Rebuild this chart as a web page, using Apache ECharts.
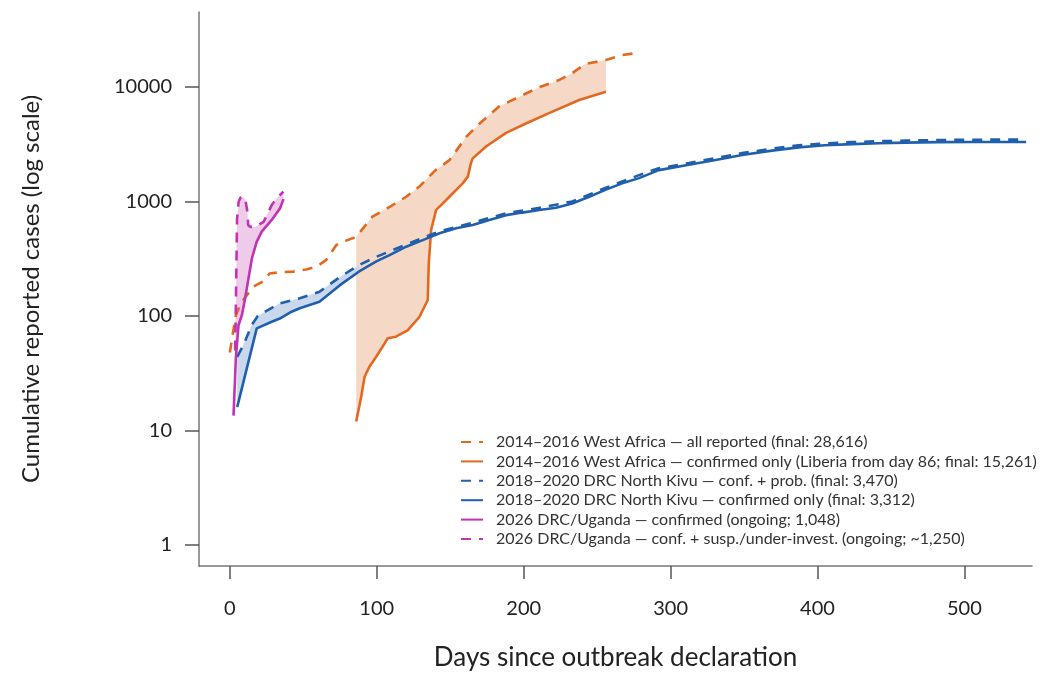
<!DOCTYPE html>
<html>
<head>
<meta charset="utf-8">
<script src="https://cdn.jsdelivr.net/npm/echarts@6/dist/echarts.min.js"></script>
<style>html,body{margin:0;padding:0;background:#fff;}#c{width:1054px;height:676px;}</style>
</head>
<body>
<div id="c"></div>
<script>
// ---- data ----
const xTicks = [0, 100, 200, 300, 400, 500];
const yTicks = [1, 10, 100, 1000, 10000];

const waAllDays  = [0, 2, 4, 7, 10, 16, 22.6, 27, 35, 43, 52, 59, 65.7, 72.5, 80, 86, 97, 109, 120, 129, 140, 149.5, 161, 170, 183, 197, 211, 224, 233, 242, 256, 267, 278];
const waAllCases = [48, 70, 100, 125, 143, 180, 200, 235, 242, 244, 255, 270, 309, 417, 460, 491, 737, 900, 1100, 1350, 1880, 2300, 3680, 4800, 6730, 8230, 10000, 11500, 13200, 15900, 17200, 19000, 19900];

const waConfDays  = [86, 89.5, 91.7, 95, 99.6, 104, 107.5, 113, 121, 129, 134.7, 135.4, 137, 140.4, 143.8, 150.6, 158.5, 162, 164, 165.3, 174.4, 188, 201.5, 219.6, 237.8, 256];
const waConfCases = [12, 20, 29.5, 36, 44, 54, 64, 66, 75, 98, 138, 288, 563, 845, 930, 1140, 1440, 1650, 2140, 2380, 3020, 3970, 4800, 6100, 7700, 9100];

const nkProbDays  = [5, 9.3, 15, 19, 34, 47.6, 61, 74.7, 88, 100, 120, 142.7, 165, 188, 210, 233, 256, 278.5, 292, 312.5, 330.6, 348.7, 369, 387, 405, 423, 442, 460, 482, 505, 523, 542];
const nkProbCases = [44, 56, 84, 100, 129, 143, 163, 218, 279, 330, 420, 550, 650, 790, 875, 1000, 1320, 1700, 1950, 2170, 2390, 2650, 2890, 3090, 3220, 3300, 3360, 3400, 3440, 3460, 3470, 3470];

const nkConfDays  = [5, 18.3, 28.5, 34, 42, 47.6, 61, 74.7, 88, 99.7, 108.7, 120, 131.3, 142.7, 154, 165.3, 176.6, 188, 199, 210.6, 222, 233, 244.6, 256, 267, 278.5, 292, 312.5, 330.6, 348.7, 369, 387, 405, 423.4, 441.6, 459.7, 482, 505, 523, 542];
const nkConfCases = [16, 78, 89, 95, 109, 117, 133, 185, 245, 300, 340, 403, 460, 528, 583, 624, 690, 760, 800, 842, 883, 960, 1100, 1270, 1440, 1600, 1880, 2090, 2300, 2550, 2780, 2970, 3100, 3170, 3230, 3270, 3300, 3310, 3312, 3312];

const ugConfDays  = [2.5, 4.1, 5.9, 8.2, 10.4, 12.7, 15, 18.3, 21.7, 28.5, 34.2, 36.5];
const ugConfCases = [13.5, 43, 83, 102, 143, 214, 318, 446, 545, 690, 873, 1048];

const ugSuspDays  = [3.6, 4.2, 4.9, 6, 7.5, 9, 10.5, 12, 12.5, 14, 17, 20, 23, 28.5, 32, 36.5];
const ugSuspCases = [50, 150, 700, 1000, 1090, 1100, 1050, 800, 620, 600, 600, 630, 665, 930, 1070, 1220];

const names = [
  '2014–2016 West Africa — all reported (final: 28,616)',
  '2014–2016 West Africa — confirmed only (Liberia from day 86; final: 15,261)',
  '2018–2020 DRC North Kivu — conf. + prob. (final: 3,470)',
  '2018–2020 DRC North Kivu — confirmed only (final: 3,312)',
  '2026 DRC/Uganda — confirmed (ongoing; 1,048)',
  '2026 DRC/Uganda — conf. + susp./under-invest. (ongoing; ~1,250)'
];

// ---- helpers ----
const zip = (d, v) => d.map((x, i) => [x, v[i]]);
function band(upD, upV, loD, loV, from, to) {
  const up = zip(upD, upV).filter(p => p[0] >= from && p[0] <= to);
  const lo = zip(loD, loV).filter(p => p[0] >= from && p[0] <= to).reverse();
  return up.concat(lo);
}
function bandSeries(poly, color) {
  return {
    type: 'custom', silent: true, z: 1,
    data: poly, encode: { x: 0, y: 1 },
    renderItem: (params, api) => {
      if (params.dataIndex !== 0) return null;
      return { type: 'polygon', shape: { points: poly.map(p => api.coord(p)) }, style: { fill: color } };
    }
  };
}

const ORANGE = '#E3691F', BLUE = '#1F5FAD', MAG = '#C233B5';
const FONT = 'Lato';
const dash = [10, 8];

function line(name, data, color, dashed) {
  return {
    name, type: 'line', data, symbol: 'none', z: 3,
    lineStyle: { color, width: 2.6, type: dashed ? dash : 'solid' },
    itemStyle: { color }
  };
}

const chart = echarts.init(document.getElementById('c'), null, { renderer: 'canvas' });
chart.setOption({
  animation: false,
  backgroundColor: '#fff',
  grid: { left: 199, right: 22, top: 12, bottom: 110 },
  xAxis: {
    type: 'value', min: -21, max: 546,
    name: 'Days since outbreak declaration', nameLocation: 'middle', nameGap: 79,
    nameTextStyle: { fontFamily: FONT, fontSize: 26, color: '#222' },
    axisLine: { show: true, onZero: false, lineStyle: { color: '#777', width: 1.5 } },
    axisTick: { show: true, length: 13, customValues: xTicks, lineStyle: { color: '#555', width: 1.5 } },
    axisLabel: { customValues: xTicks, margin: 33, fontFamily: FONT, fontSize: 20, color: '#222' },
    splitLine: { show: false }
  },
  yAxis: {
    type: 'log', logBase: 10, min: 0.6555, max: 45180,
    name: 'Cumulative reported cases (log scale)', nameLocation: 'middle', nameGap: 156,
    nameTextStyle: { fontFamily: FONT, fontSize: 24, color: '#222' },
    axisLine: { show: true, onZero: false, lineStyle: { color: '#777', width: 1.5 } },
    axisTick: { show: true, length: 14, customValues: yTicks, lineStyle: { color: '#555', width: 1.5 } },
    axisLabel: { customValues: yTicks, margin: 27, fontFamily: FONT, fontSize: 20, color: '#222', formatter: v => String(v) },
    splitLine: { show: false }
  },
  legend: {
    data: names,
    orient: 'vertical', left: 455, top: 429,
    itemWidth: 22, itemHeight: 14, itemGap: 3.4,
    itemStyle: { opacity: 0 },
    textStyle: { fontFamily: FONT, fontSize: 16, color: '#333', padding: [0, 0, 0, 8] }
  },
  series: [
    bandSeries(band(waAllDays, waAllCases, waConfDays, waConfCases, 86, 256), '#F6D8C6'),
    bandSeries(band(nkProbDays, nkProbCases, nkConfDays, nkConfCases, 5, 88), '#C9D8EC'),
    bandSeries(band(ugSuspDays, ugSuspCases, ugConfDays, ugConfCases, 3.6, 36.5), '#EFCBEA'),
    line(names[0], zip(waAllDays, waAllCases), ORANGE, true),
    line(names[1], zip(waConfDays, waConfCases), ORANGE, false),
    line(names[2], zip(nkProbDays, nkProbCases), BLUE, true),
    line(names[3], zip(nkConfDays, nkConfCases), BLUE, false),
    line(names[4], zip(ugConfDays, ugConfCases), MAG, false),
    line(names[5], zip(ugSuspDays, ugSuspCases), MAG, true)
  ]
});
</script>
</body>
</html>
